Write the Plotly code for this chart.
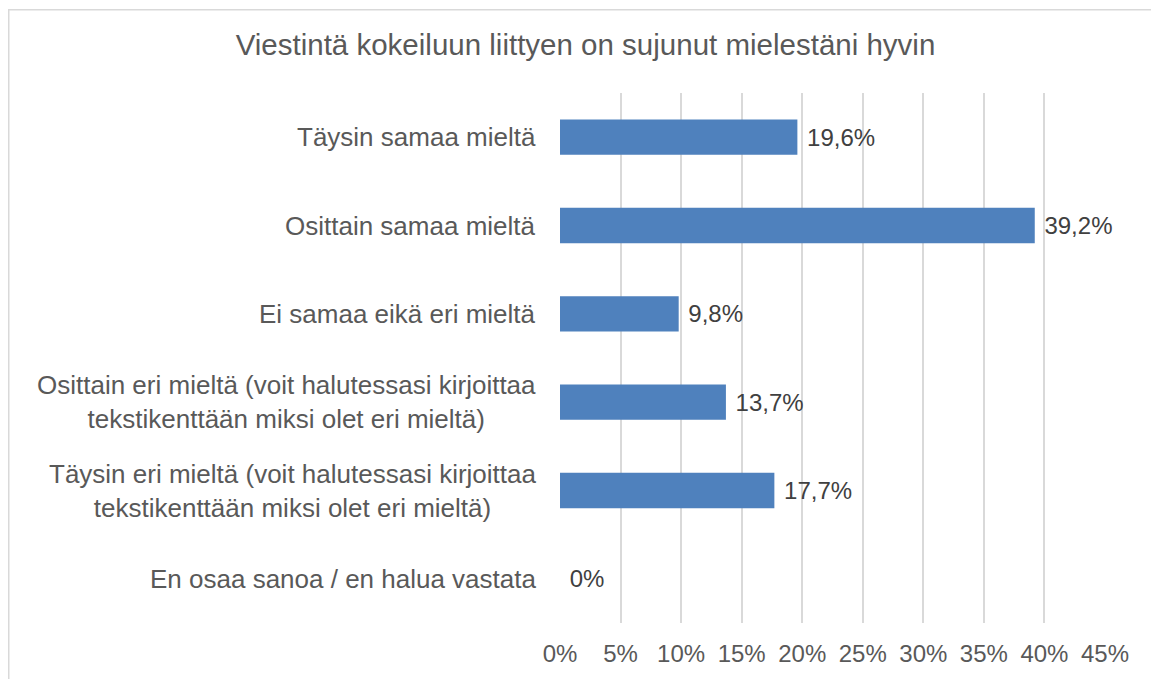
import plotly.graph_objects as go

title_text = "Viestintä kokeiluun liittyen on sujunut mielestäni hyvin"
categories = [
    "Täysin samaa mieltä",
    "Osittain samaa mieltä",
    "Ei samaa eikä eri mieltä",
    "Osittain eri mieltä (voit halutessasi kirjoittaa<br>tekstikenttään miksi olet eri mieltä)",
    "Täysin eri mieltä (voit halutessasi kirjoittaa<br>tekstikenttään miksi olet eri mieltä)",
    "En osaa sanoa / en halua vastata",
]
values = [19.6, 39.2, 9.8, 13.7, 17.7, 0.0]
tick_vals = [0, 5, 10, 15, 20, 25, 30, 35, 40, 45]
tick_text = ["0%", "5%", "10%", "15%", "20%", "25%", "30%", "35%", "40%", "45%"]


def fmt(v):
    if v == 0:
        return "0%"
    return f"{v:.1f}".replace(".", ",") + "%"


labels = ["\u00a0" + fmt(v) for v in values]
cat_ids = list(range(len(categories)))

FONT = "Liberation Sans, Arial, sans-serif"
GRAY = "#595959"

W, H = 1151, 671
L, R, T, B = 552, 54, 85, 49
plot_w = W - L - R
plot_h = H - T - B

fig = go.Figure()
fig.add_trace(go.Bar(
    x=values,
    y=cat_ids,
    orientation="h",
    marker=dict(color="#4F81BD", line=dict(width=0)),
    text=labels,
    textposition="outside",
    textfont=dict(family=FONT, size=24, color="#404040"),
    constraintext="none",
    cliponaxis=False,
    hoverinfo="skip",
))

annotations = []
for i, c in zip(cat_ids, categories):
    annotations.append(dict(
        x=0, xref="paper", y=i, yref="y",
        text=c, showarrow=False, xanchor="right", yanchor="middle",
        xshift=-22, align="center",
        font=dict(family=FONT, size=26, color=GRAY),
    ))

fig.update_layout(
    width=W, height=H,
    margin=dict(l=L, r=R, t=T, b=B),
    paper_bgcolor="white", plot_bgcolor="white",
    showlegend=False,
    bargap=0.6,
    title=dict(text=title_text, x=577.5 / W, xanchor="center", xref="container",
               y=1 - 37 / H, yanchor="middle", yref="container",
               font=dict(family=FONT, size=29.5, color=GRAY)),
    xaxis=dict(range=[0, 45], tickvals=tick_vals, ticktext=tick_text,
               showgrid=True, gridcolor="#D9D9D9", gridwidth=1.5,
               zeroline=False, showline=False,
               ticks="outside", ticklen=9, tickcolor="rgba(0,0,0,0)",
               tickfont=dict(family=FONT, size=24, color=GRAY), fixedrange=True),
    yaxis=dict(autorange="reversed", showticklabels=False, showgrid=False,
               zeroline=False, showline=False, fixedrange=True),
    annotations=annotations,
    shapes=[dict(type="rect", xref="paper", yref="paper",
                 x0=(0.75 - L) / plot_w, x1=(1149 - L) / plot_w,
                 y0=-0.3, y1=1 + (T - 0.75) / plot_h,
                 line=dict(color="#D9D9D9", width=1.5), fillcolor="rgba(0,0,0,0)",
                 layer="below")],
)

fig.write_html("out.html")
